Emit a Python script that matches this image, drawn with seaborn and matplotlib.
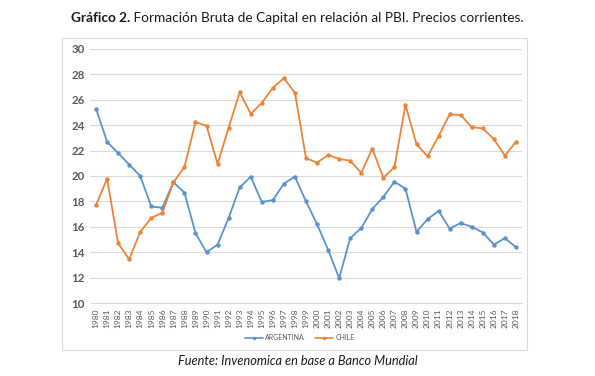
import matplotlib
matplotlib.use("Agg")
import matplotlib.pyplot as plt
import seaborn as sns
import pandas as pd
from matplotlib.patches import Rectangle

# datos
years = list(range(1980, 2019))
argentina = [25.3, 22.7, 21.8, 20.9, 20.0, 17.6, 17.5, 19.5, 18.7, 15.5,
             14.0, 14.6, 16.7, 19.1, 19.95, 17.95, 18.1, 19.4, 19.95, 18.0,
             16.2, 14.2, 11.95, 15.1, 15.9, 17.4, 18.35, 19.55, 19.0, 15.6,
             16.6, 17.25, 15.85, 16.3, 16.0, 15.55, 14.6, 15.1, 14.4]
chile = [17.7, 19.8, 14.7, 13.45, 15.6, 16.7, 17.1, 19.5, 20.7, 24.25,
         23.95, 20.95, 23.8, 26.6, 24.9, 25.75, 26.95, 27.7, 26.55, 21.4,
         21.05, 21.65, 21.35, 21.2, 20.25, 22.15, 19.85, 20.7, 25.6, 22.5,
         21.55, 23.15, 24.85, 24.8, 23.85, 23.75, 22.9, 21.6, 22.7]
series_names = ["ARGENTINA", "CHILE"]
colors = ["#5A93CB", "#E8843C"]
y_ticks = [10, 12, 14, 16, 18, 20, 22, 24, 26, 28, 30]

df = pd.DataFrame({
    "year": years * 2,
    "value": argentina + chile,
    "pais": [series_names[0]] * len(years) + [series_names[1]] * len(years),
})

sns.set_style("white")
plt.rcParams["font.family"] = ["Lato", "DejaVu Sans"]

W, H = 595, 376
fig = plt.figure(figsize=(W / 100, H / 100), dpi=100)
ax = fig.add_axes([90.5 / W, 1 - 303 / H, 431 / W, 254 / H])

# marco del gráfico
fig.patches.append(Rectangle((62 / W, 1 - 350 / H), 465 / W, 312 / H,
                             transform=fig.transFigure, fill=False,
                             edgecolor="#D9D9D9", linewidth=0.8))

sns.lineplot(data=df, x="year", y="value", hue="pais", palette=colors,
             marker="o", markersize=3.2, markeredgewidth=0, linewidth=1.3,
             ax=ax, legend=False)

ax.set_xlim(1979.5, 2018.5)
ax.set_ylim(10, 30)
ax.set_yticks(y_ticks)
ax.set_xticks(years)
ax.set_xticklabels([str(y) for y in years], rotation=90, fontsize=6,
                   color="#595959")
ax.set_yticklabels([str(v) for v in y_ticks], fontsize=8.3, fontweight="bold",
                   color="#595959")
ax.tick_params(axis="both", length=0, pad=4)
ax.grid(axis="y", color="#D9D9D9", linewidth=0.8)
ax.set_axisbelow(True)
for s in ["top", "right", "left"]:
    ax.spines[s].set_visible(False)
ax.spines["bottom"].set_color("#D9D9D9")
ax.spines["bottom"].set_linewidth(0.8)
ax.set_xlabel("")
ax.set_ylabel("")

# leyenda
handles = [plt.Line2D([], [], color=c, marker="o", markersize=2.5,
                      markeredgewidth=0, linewidth=1.2) for c in colors]
fig.legend(handles, series_names, loc="center", bbox_to_anchor=(300 / W, 1 - 338 / H),
           ncol=2, frameon=False, fontsize=5, labelcolor="#595959",
           handlelength=2.5, columnspacing=1.5, handletextpad=0.4)

# título con parte en negrita
t1 = fig.text(0, 1 - 18 / H, "Gráfico 2.", fontsize=9.8, fontweight="bold",
              va="center", ha="left", color="#1a1a1a")
t2 = fig.text(0, 1 - 18 / H, " Formación Bruta de Capital en relación al PBI. Precios corrientes.",
              fontsize=9.8, va="center", ha="left", color="#1a1a1a")
fig.canvas.draw()
r = fig.canvas.get_renderer()
w1 = t1.get_window_extent(r).width
w2 = t2.get_window_extent(r).width
x0 = (W - w1 - w2) / 2
t1.set_x(x0 / W)
t2.set_x((x0 + w1) / W)

fig.text(0.5, 1 - 361 / H, "Fuente: Invenomica en base a Banco Mundial",
         fontsize=9.2, style="italic", ha="center", va="center", color="#1a1a1a")

fig.savefig("out.png", dpi=100, facecolor="white")
